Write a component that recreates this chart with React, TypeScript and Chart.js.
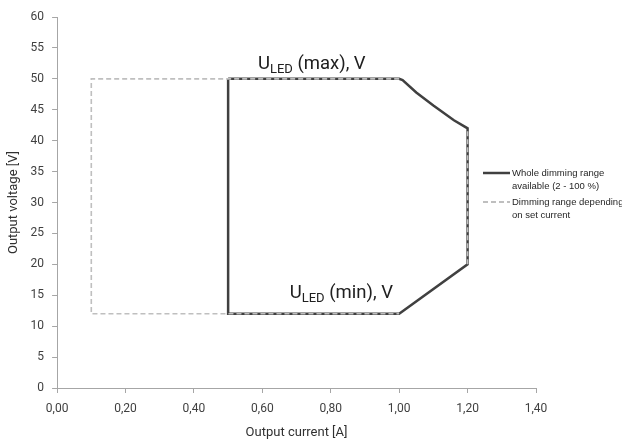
import React, { useEffect, useRef } from "react";
import { Chart, registerables } from "chart.js";

Chart.register(...registerables);

// Whole dimming range (solid)
const solidX = [0.5, 1.0, 1.01, 1.05, 1.1, 1.16, 1.2, 1.2, 1.0, 0.5, 0.5];
const solidY = [50, 50, 49.8, 47.8, 45.7, 43.3, 42, 20, 12, 12, 50];
// Dimming range depending on set current (dashed)
const dashX = [1.0, 0.1, 0.1, 1.0, null, 1.2, 1.2];
const dashY = [50, 50, 12, 12, null, 20, 42];

const xTicks = [0, 0.2, 0.4, 0.6, 0.8, 1.0, 1.2, 1.4];
const yTicks = [0, 5, 10, 15, 20, 25, 30, 35, 40, 45, 50, 55, 60];

const legendLabels = [
  ["Whole dimming range", "available (2 - 100 %)"],
  ["Dimming range depending", "on set current"],
];
const annotations = [
  { x: 0.587, y: 51.6, main: "U", sub: "LED", rest: " (max), V" },
  { x: 0.68, y: 14.5, main: "U", sub: "LED", rest: " (min), V" },
];

const SOLID = "#404040";
const DASH = "#bfbfbf";
const FONT = "'Roboto', sans-serif";

export default function App() {
  const ref = useRef<HTMLCanvasElement | null>(null);
  useEffect(() => {
    const canvas = ref.current;
    if (!canvas) return;
    const toPts = (xs: (number | null)[], ys: (number | null)[]) =>
      xs.map((x, i) => ({ x: x as any, y: ys[i] as any }));

    const overlay = {
      id: "overlay",
      afterDatasetsDraw(chart: any) {
        const ctx = chart.ctx;
        const xs = chart.scales.x;
        const ys = chart.scales.y;
        ctx.save();
        annotations.forEach((a) => {
          const px = xs.getPixelForValue(a.x);
          const py = ys.getPixelForValue(a.y);
          ctx.fillStyle = "#202020";
          ctx.textBaseline = "alphabetic";
          ctx.textAlign = "left";
          ctx.font = `18.5px ${FONT}`;
          ctx.fillText(a.main, px, py);
          let w = ctx.measureText(a.main).width;
          ctx.font = `13px ${FONT}`;
          ctx.fillText(a.sub, px + w, py + 4);
          w += ctx.measureText(a.sub).width;
          ctx.font = `18.5px ${FONT}`;
          ctx.fillText(a.rest, px + w, py);
        });
        const lx = 483;
        const items = [
          { y: 173, color: SOLID, dash: [] as number[], w: 2.5 },
          { y: 202, color: DASH, dash: [5, 3], w: 2 },
        ];
        items.forEach((it, i) => {
          ctx.beginPath();
          ctx.setLineDash(it.dash);
          ctx.strokeStyle = it.color;
          ctx.lineWidth = it.w;
          ctx.moveTo(lx, it.y);
          ctx.lineTo(lx + 27, it.y);
          ctx.stroke();
          ctx.setLineDash([]);
          ctx.fillStyle = "#262626";
          ctx.font = `9.5px 'Liberation Sans', 'Open Sans', sans-serif`;
          ctx.textBaseline = "middle";
          ctx.textAlign = "left";
          ctx.fillText(legendLabels[i][0], lx + 29, it.y);
          ctx.fillText(legendLabels[i][1], lx + 29, it.y + 13);
        });
        ctx.restore();
      },
    };

    const chart = new Chart(canvas, {
      type: "line",
      data: {
        datasets: [
          {
            label: "Whole dimming range available (2 - 100 %)",
            data: toPts(solidX, solidY),
            borderColor: SOLID,
            borderWidth: 2.5,
            pointRadius: 0,
            fill: false,
            tension: 0,
            order: 1,
          },
          {
            label: "Dimming range depending on set current",
            data: toPts(dashX, dashY),
            borderColor: DASH,
            borderWidth: 1.6,
            borderDash: [5, 3],
            pointRadius: 0,
            fill: false,
            spanGaps: false,
            tension: 0,
            order: 0,
          },
        ],
      },
      options: {
        animation: false,
        responsive: true,
        maintainAspectRatio: false,
        layout: { padding: { left: 6, right: 86, top: 17, bottom: 0 } },
        plugins: { legend: { display: false }, tooltip: { enabled: false } },
        scales: {
          x: {
            type: "linear",
            min: 0,
            max: 1.4,
            afterBuildTicks: (s: any) => {
              s.ticks = xTicks.map((v) => ({ value: v }));
            },
            ticks: {
              color: "#404040",
              font: { family: FONT, size: 12 },
              padding: 9,
              maxRotation: 0,
              callback: (v: any) => Number(v).toFixed(2).replace(".", ","),
            },
            grid: { drawOnChartArea: false, drawTicks: true, tickLength: 5, color: "#a6a6a6" },
            border: { color: "#a6a6a6", width: 1 },
            title: {
              display: true,
              text: "Output current [A]",
              color: "#303030",
              font: { family: FONT, size: 13 },
              padding: { top: 0, bottom: 0 },
            },
          },
          y: {
            type: "linear",
            min: 0,
            max: 60,
            afterBuildTicks: (s: any) => {
              s.ticks = yTicks.map((v) => ({ value: v }));
            },
            ticks: {
              color: "#404040",
              font: { family: FONT, size: 12 },
              padding: 8,
            },
            grid: { drawOnChartArea: false, drawTicks: true, tickLength: 5, color: "#a6a6a6" },
            border: { color: "#a6a6a6", width: 1 },
            title: {
              display: true,
              text: "Output voltage [V]",
              color: "#303030",
              font: { family: FONT, size: 13 },
              padding: { top: 0, bottom: 1 },
            },
          },
        },
      },
      plugins: [overlay],
    });
    return () => chart.destroy();
  }, []);

  return (
    <div style={{ position: "absolute", left: 0, top: 0, width: 622, height: 441, background: "#fff" }}>
      <canvas ref={ref} />
    </div>
  );
}
